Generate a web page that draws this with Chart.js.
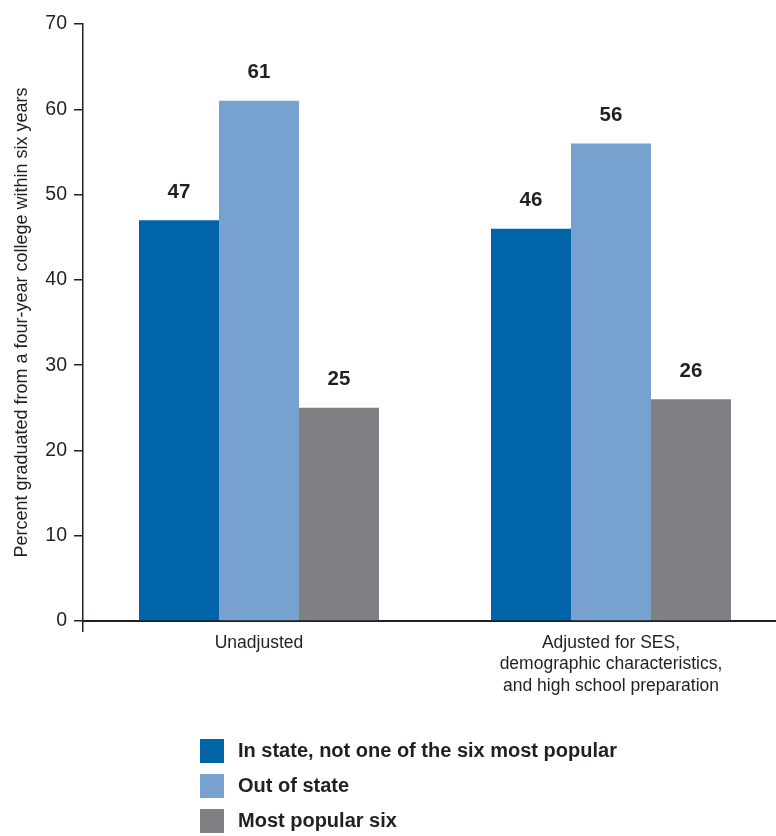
<!DOCTYPE html>
<html>
<head>
<meta charset="utf-8">
<script src="https://cdn.jsdelivr.net/npm/chart.js@4.4.1/dist/chart.umd.min.js"></script>
<style>
  html, body { margin: 0; padding: 0; background: #fff; overflow: hidden; width: 776px; height: 836px; }
  #wrap { position: relative; width: 776px; height: 836px; overflow: hidden; }
  canvas { position: absolute; left: 0; top: 0; }
  #legend { position: absolute; left: 200px; top: 733px; font-family: "Liberation Sans", Arial, sans-serif; font-weight: bold; font-size: 20px; color: #231F20; }
  .item { display: flex; align-items: center; height: 35px; }
  .sw { width: 24px; height: 24px; margin-right: 14px; }
</style>
</head>
<body>
<div id="wrap">
  <canvas id="c" width="787" height="836"></canvas>
  <div id="legend"></div>
</div>
<script>
const categories = [["Unadjusted"], ["Adjusted for SES,", "demographic characteristics,", "and high school preparation"]];
const seriesNames = ["In state, not one of the six most popular", "Out of state", "Most popular six"];
const inStateOther = [47, 46];
const outOfState = [61, 56];
const popularSix = [25, 26];
const colors = ["#0065A8", "#77A1CF", "#808084"];
const yTicks = [0, 10, 20, 30, 40, 50, 60, 70];
const yTitle = "Percent graduated from a four-year college within six years";

const FONT = '"Liberation Sans", Arial, sans-serif';
const TXT = '#231F20';

const valueLabels = {
  id: 'valueLabels',
  afterDatasetsDraw(chart) {
    const ctx = chart.ctx;
    ctx.save();
    ctx.font = 'bold 20.5px ' + FONT;
    ctx.fillStyle = TXT;
    ctx.textAlign = 'center';
    ctx.textBaseline = 'middle';
    chart.data.datasets.forEach((ds, i) => {
      chart.getDatasetMeta(i).data.forEach((el, j) => {
        ctx.fillText(String(ds.data[j]), el.x, el.y - 28);
      });
    });
    ctx.restore();
  }
};

const seriesData = [inStateOther, outOfState, popularSix];
new Chart(document.getElementById('c'), {
  type: 'bar',
  data: {
    labels: categories,
    datasets: seriesNames.map((n, i) => ({
      label: n,
      data: seriesData[i],
      backgroundColor: colors[i],
      borderWidth: 0,
      categoryPercentage: 240 / 352,
      barPercentage: 1
    }))
  },
  options: {
    responsive: false,
    animation: false,
    layout: { padding: { top: 24, right: 0, bottom: 0, left: 0 } },
    plugins: { legend: { display: false }, tooltip: { enabled: false } },
    scales: {
      x: {
        offset: true,
        afterFit(s) { s.height = 215; },
        grid: {
          drawOnChartArea: false,
          drawTicks: true,
          tickLength: 11,
          lineWidth: 1.5,
          color: (c) => c.index === 0 ? TXT : 'rgba(0,0,0,0)'
        },
        border: { color: TXT, width: 2 },
        ticks: { font: { family: FONT, size: 17.5, lineHeight: 1.23 }, color: TXT, padding: 0, maxRotation: 0, autoSkip: false }
      },
      y: {
        min: 0, max: 70,
        afterFit(s) { s.width = 83; },
        afterBuildTicks(s) { s.ticks = yTicks.map(v => ({ value: v })); },
        grid: { drawOnChartArea: false, drawTicks: true, tickLength: 9, lineWidth: 1.5, color: TXT },
        border: { color: TXT, width: 1.5 },
        ticks: { font: { family: FONT, size: 19.5 }, color: TXT, padding: 7 },
        title: { display: true, text: yTitle, font: { family: FONT, size: 18 }, color: TXT, padding: { top: 11, bottom: 0 } }
      }
    }
  },
  plugins: [valueLabels]
});

const lg = document.getElementById('legend');
seriesNames.forEach((n, i) => {
  const d = document.createElement('div');
  d.className = 'item';
  const sw = document.createElement('span');
  sw.className = 'sw';
  sw.style.background = colors[i];
  const t = document.createElement('span');
  t.textContent = n;
  d.appendChild(sw); d.appendChild(t);
  lg.appendChild(d);
});
</script>
</body>
</html>
